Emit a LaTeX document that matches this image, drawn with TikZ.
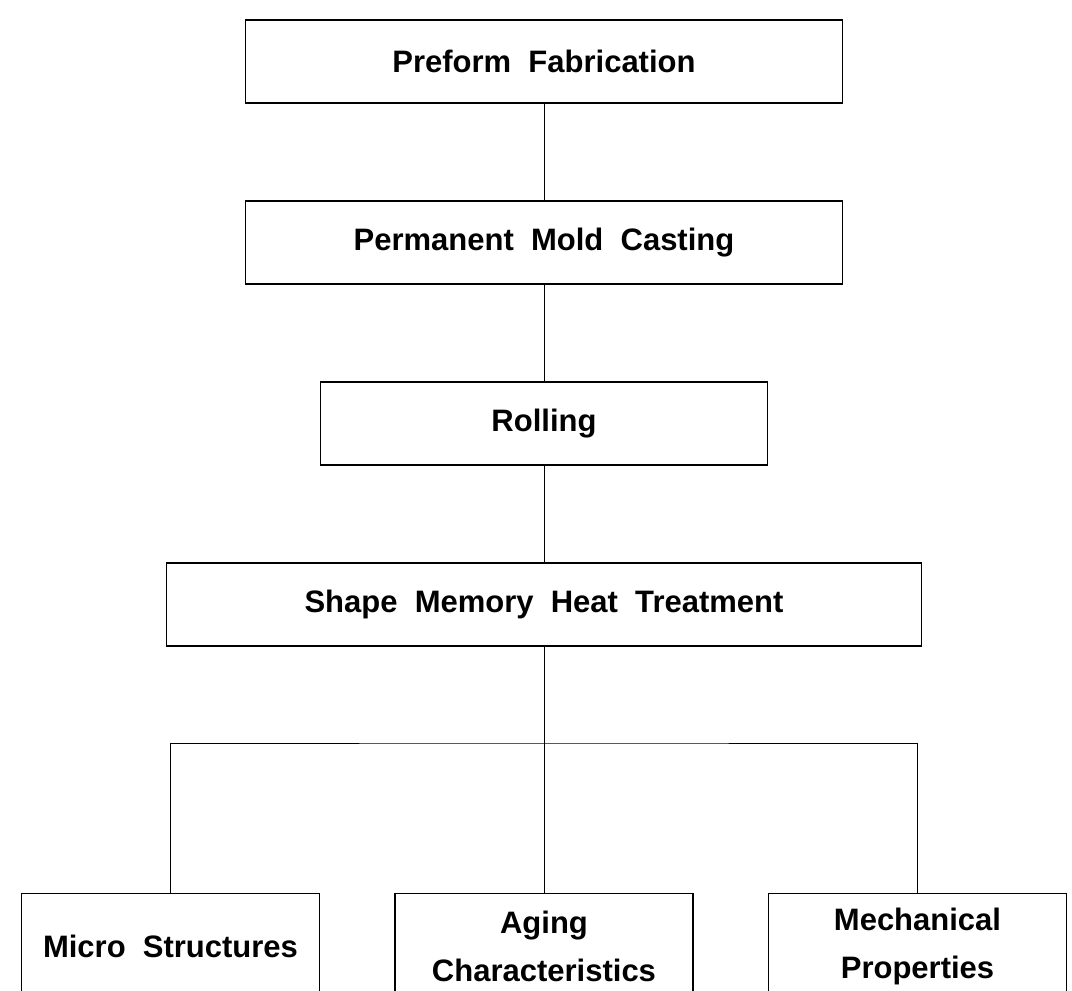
\documentclass[tikz,border=0pt]{standalone}
\usepackage{fontspec}
\setmainfont{Liberation Sans}
\usetikzlibrary{positioning}

\begin{document}
\begin{tikzpicture}[-,node distance=181pt,line width=1pt]
	\tikzstyle{every node}=[shape=rectangle,draw=black,text=black,line width=1.8pt,font=\bfseries\fontsize{31}{48}\selectfont,minimum height=83pt]
	\tikzstyle{leaf}=[minimum width=298pt,minimum height=106pt,align=center]
	\useasboundingbox (0pt,0pt) rectangle (1072pt,-991pt);

	\node         (preform) [minimum width=597pt] at (544pt,-61.5pt) {Preform\ \ Fabrication};
	\node         (casting) [below of=preform, minimum width=597pt] {Permanent\ \ Mold\ \ Casting};
	\node         (rolling) [below of=casting, minimum width=447pt] {Rolling};
	\node         (heat)    [below of=rolling, minimum width=755pt] {Shape\ \ Memory\ \ Heat\ \ Treatment};
	\node         (aging)   [leaf, below of=heat, node distance=342pt] {Aging\\Characteristics};
	\node         (micro)   [leaf, left of=aging, node distance=373.5pt] {Micro\ \ Structures};
	\node         (mech)    [leaf, right of=aging, node distance=373.5pt] {Mechanical\\Properties};
	\node         (split)   [coordinate, above of=aging, node distance=203.5pt] {};

	\draw (preform) -- (casting);
	\draw (casting) -- (rolling);
	\draw (rolling) -- (heat);
	\draw (heat) -- (aging);
	\draw (micro.north) |- (split) -| (mech.north);
\end{tikzpicture}
\end{document}
